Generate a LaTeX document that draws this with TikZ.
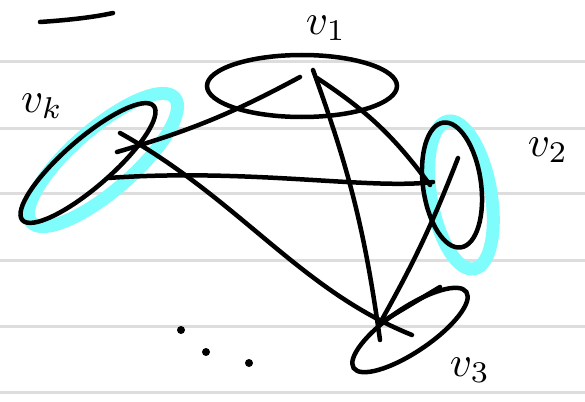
\documentclass[tikz,border=0pt]{standalone}
\usepackage{tikz}
\usetikzlibrary{shapes.geometric}
\definecolor{hilite}{HTML}{7FFCFC}
\definecolor{rulegray}{HTML}{DDDDDD}
\tikzstyle{set} = [ellipse, draw=black, line width=4.5pt, inner sep=0pt, outer sep=0pt]
\tikzstyle{glow} = [ellipse, draw=hilite, line width=13pt, inner sep=0pt]
\tikzstyle{line} = [draw, line width=4.5pt, line cap=round, line join=round]
\tikzstyle{tag} = [scale=4.3, inner sep=0pt]
\tikzstyle{ruled} = [draw=rulegray, line width=3pt]

\begin{document}
\begin{tikzpicture}[x=1pt, y=-1pt]
    \useasboundingbox (0,0) rectangle (585,401);
    % Paper
    \foreach \y in {62,128,193,260,326,392}
        \path [ruled] (0,\y) -- (585,\y);
    % Highlights
    \node [glow, minimum width=190pt, minimum height=62pt, rotate=41] (glowk) at (103,160) {};
    \node [glow, minimum width=60pt, minimum height=150pt, rotate=10] (glow2) at (461,195) {};
    % Nodes
    \node [set, minimum width=190pt, minimum height=62pt] (v1) at (302,86) {};
    \node [set, minimum width=174pt, minimum height=48pt, rotate=41] (vk) at (88,163) {};
    \node [set, minimum width=58pt, minimum height=126pt, rotate=8] (v2) at (452,185) {};
    \node [set, minimum width=136pt, minimum height=44pt, rotate=34] (v3) at (410,330) {};
    % Labels
    \node [tag] (l1) at (326,28) {$v_1$};
    \node [tag] (lk) at (42,106) {$v_k$};
    \node [tag] (l2) at (548,150) {$v_2$};
    \node [tag] (l3) at (470,370) {$v_3$};
    % Ends
    \coordinate (a1) at (300,77);
    \coordinate (b1) at (313,70);
    \coordinate (c1) at (317,78);
    \coordinate (ak) at (117,152);
    \coordinate (bk) at (120,133);
    \coordinate (ck) at (108,178);
    \coordinate (a2) at (430,185);
    \coordinate (b2) at (433,182);
    \coordinate (c2) at (458,158);
    \coordinate (a3) at (380,340);
    \coordinate (b3) at (412,335);
    \coordinate (c3) at (380,323);
    \coordinate (d3) at (440,287);
    % Edges
    \path [line] (a1) to[bend left=6] (ak);
    \path [line] (b1) to[bend left=6] (a3);
    \path [line] (c1) to[bend left=10] (a2);
    \path [line] (ck) .. controls (250,168) and (370,190) .. (b2);
    \path [line] (bk) .. controls (240,200) and (300,290) .. (b3);
    \path [line] (c2) to[bend left=4] (c3);
    \path [line] (d3) -- (c3);
    % Stray marks
    \path [line] (40,22) .. controls (70,20) and (95,17) .. (113,13);
    \foreach \p in {(181,330),(206,352),(249,363)}
        \fill \p circle (4);
\end{tikzpicture}
\end{document}
